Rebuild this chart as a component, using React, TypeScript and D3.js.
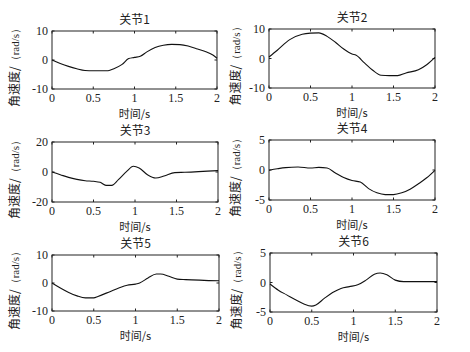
import React, { useRef, useEffect } from 'react';
import * as d3 from 'd3';

// joint angular velocity curves: [time s, rad/s]
const joint1: [number, number][] = [
  [0, 0], [0.1, -1.2], [0.2, -2.2], [0.3, -3.0], [0.4, -3.6], [0.5, -3.7], [0.6, -3.7],
  [0.68, -3.7], [0.75, -3.0], [0.85, -1.5], [0.93, 0.5], [1.0, 0.9], [1.07, 1.3],
  [1.15, 2.8], [1.25, 4.3], [1.35, 5.1], [1.45, 5.4], [1.55, 5.3], [1.65, 4.8],
  [1.75, 3.9], [1.85, 3.0], [1.95, 1.7], [2.0, 0.6],
];
const joint2: [number, number][] = [
  [0, 0.5], [0.1, 2.8], [0.25, 6.4], [0.4, 8.2], [0.5, 8.6], [0.6, 8.7], [0.7, 7.5],
  [0.8, 5.5], [0.9, 3.2], [1.0, 1.5], [1.05, 1.1], [1.15, -1.5], [1.25, -4.0],
  [1.35, -5.7], [1.45, -5.8], [1.55, -5.8], [1.65, -4.9], [1.8, -3.8], [1.9, -2.1], [2.0, 0.4],
];
const joint3: [number, number][] = [
  [0, 0], [0.1, -1.8], [0.2, -3.6], [0.3, -4.9], [0.4, -5.8], [0.5, -6.2], [0.58, -6.9],
  [0.65, -8.9], [0.72, -8.9], [0.8, -5.1], [0.9, 0.4], [0.98, 3.8], [1.05, 2.7],
  [1.15, -1.8], [1.25, -4.0], [1.35, -2.7], [1.48, -0.4], [1.6, -0.2], [2.0, 0.9],
];
const joint4: [number, number][] = [
  [0, -0.05], [0.1, 0.2], [0.2, 0.4], [0.35, 0.5], [0.5, 0.33], [0.6, 0.44], [0.7, 0.33],
  [0.8, -0.5], [0.9, -1.26], [1.0, -1.75], [1.1, -2.0], [1.2, -3.1], [1.3, -3.8],
  [1.4, -4.1], [1.5, -4.1], [1.6, -3.8], [1.7, -3.2], [1.8, -2.3], [1.9, -1.3], [2.0, -0.05],
];
const joint5: [number, number][] = [
  [0, 0], [0.1, -1.8], [0.2, -3.4], [0.3, -4.6], [0.4, -5.3], [0.5, -5.3], [0.55, -4.8],
  [0.7, -3.0], [0.8, -1.8], [0.9, -0.8], [1.0, -0.4], [1.05, 0], [1.15, 1.8],
  [1.25, 3.2], [1.3, 3.2], [1.4, 2.4], [1.5, 1.4], [1.6, 1.2], [2.0, 0.8],
];
const joint6: [number, number][] = [
  [0, -0.25], [0.1, -1.3], [0.2, -2.1], [0.3, -2.9], [0.4, -3.6], [0.5, -4.0], [0.55, -3.8],
  [0.65, -2.7], [0.75, -1.7], [0.85, -1.0], [0.95, -0.7], [1.05, -0.4], [1.15, 0.4],
  [1.25, 1.4], [1.32, 1.6], [1.4, 1.3], [1.5, 0.4], [1.6, 0.15], [2.0, 0.15],
];

const titles = ['关节1', '关节2', '关节3', '关节4', '关节5', '关节6'];
const series = [joint1, joint2, joint3, joint4, joint5, joint6];
const yLimits = [10, 10, 20, 5, 10, 5];
const xTicks = [0, 0.5, 1, 1.5, 2];
const xTickLabels = ['0', '0.5', '1', '1.5', '2'];

// plot boxes [left, top, right, bottom] (the scan is slightly skewed)
const boxes = [
  [52, 31, 217, 89],
  [269, 29, 435, 88],
  [52, 142, 218, 202],
  [269, 140, 435, 200],
  [52, 255, 219, 311],
  [270, 253, 437, 312],
];

const NUM_FONT = '"Liberation Serif", "DejaVu Serif", serif';
const CJK_FONT = '"Noto Sans CJK SC", sans-serif';

const App = () => {
  const svgRef = useRef<SVGSVGElement>(null);

  useEffect(() => {
    const svg = d3.select(svgRef.current);
    svg.selectAll('*').remove();

    series.forEach((data, i) => {
      const [l, t, r, b] = boxes[i];
      const lim = yLimits[i];
      const x = d3.scaleLinear().domain([0, 2]).range([l, r]);
      const y = d3.scaleLinear().domain([-lim, lim]).range([b, t]);
      const g = svg.append('g');
      const yTicks = [-lim, 0, lim];

      // inward ticks on all four sides (box on)
      const tk = 2.5;
      xTicks.forEach(v => {
        g.append('line').attr('x1', x(v)).attr('x2', x(v)).attr('y1', b).attr('y2', b - tk)
          .attr('stroke', '#222');
        g.append('line').attr('x1', x(v)).attr('x2', x(v)).attr('y1', t).attr('y2', t + tk)
          .attr('stroke', '#222');
      });
      yTicks.forEach(v => {
        g.append('line').attr('x1', l).attr('x2', l + tk).attr('y1', y(v)).attr('y2', y(v))
          .attr('stroke', '#222');
        g.append('line').attr('x1', r).attr('x2', r - tk).attr('y1', y(v)).attr('y2', y(v))
          .attr('stroke', '#222');
      });

      g.append('rect')
        .attr('x', l).attr('y', t).attr('width', r - l).attr('height', b - t)
        .attr('fill', 'none').attr('stroke', '#222').attr('stroke-width', 1);

      const line = d3.line<[number, number]>()
        .x(d => x(d[0]))
        .y(d => y(d[1]))
        .curve(d3.curveMonotoneX);

      g.append('path')
        .datum(data)
        .attr('d', line)
        .attr('fill', 'none')
        .attr('stroke', '#111')
        .attr('stroke-width', 1.1);

      // tick labels
      g.selectAll('.xt')
        .data(xTicks)
        .enter().append('text')
        .attr('x', d => x(d))
        .attr('y', b + 13)
        .attr('text-anchor', 'middle')
        .style('font-family', NUM_FONT)
        .style('font-size', '12px')
        .attr('fill', '#222')
        .text((d, k) => xTickLabels[k]);

      g.selectAll('.yt')
        .data(yTicks)
        .enter().append('text')
        .attr('x', l - 4)
        .attr('y', d => y(d) + 4)
        .attr('text-anchor', 'end')
        .style('font-family', NUM_FONT)
        .style('font-size', '12px')
        .attr('fill', '#222')
        .text(d => String(d));

      // title
      g.append('text')
        .attr('x', (l + r) / 2)
        .attr('y', t - 7)
        .attr('text-anchor', 'middle')
        .style('font-family', CJK_FONT)
        .style('font-size', '12px')
        .attr('fill', '#222')
        .text(titles[i]);

      // x label
      g.append('text')
        .attr('x', (l + r) / 2)
        .attr('y', b + 29)
        .attr('text-anchor', 'middle')
        .style('font-family', CJK_FONT)
        .style('font-size', '11px')
        .attr('fill', '#222')
        .text('时间/s');

      // y label
      const yOff = i % 2 === 0 ? 33 : 29;
      const yl = g.append('text')
        .attr('transform', `translate(${l - yOff},${(t + b) / 2 + 5}) rotate(-90)`)
        .attr('text-anchor', 'middle')
        .style('font-family', CJK_FONT)
        .style('font-size', '12px')
        .attr('fill', '#222');
      yl.append('tspan').text('角速度/');
      yl.append('tspan').style('font-family', NUM_FONT).style('font-size', '11px').text('（rad/s）');
    });
  }, []);

  return (
    <svg ref={svgRef} width={470} height={352}
      style={{ position: 'absolute', left: 0, top: 0, background: '#fff' }} />
  );
};

export default App;
